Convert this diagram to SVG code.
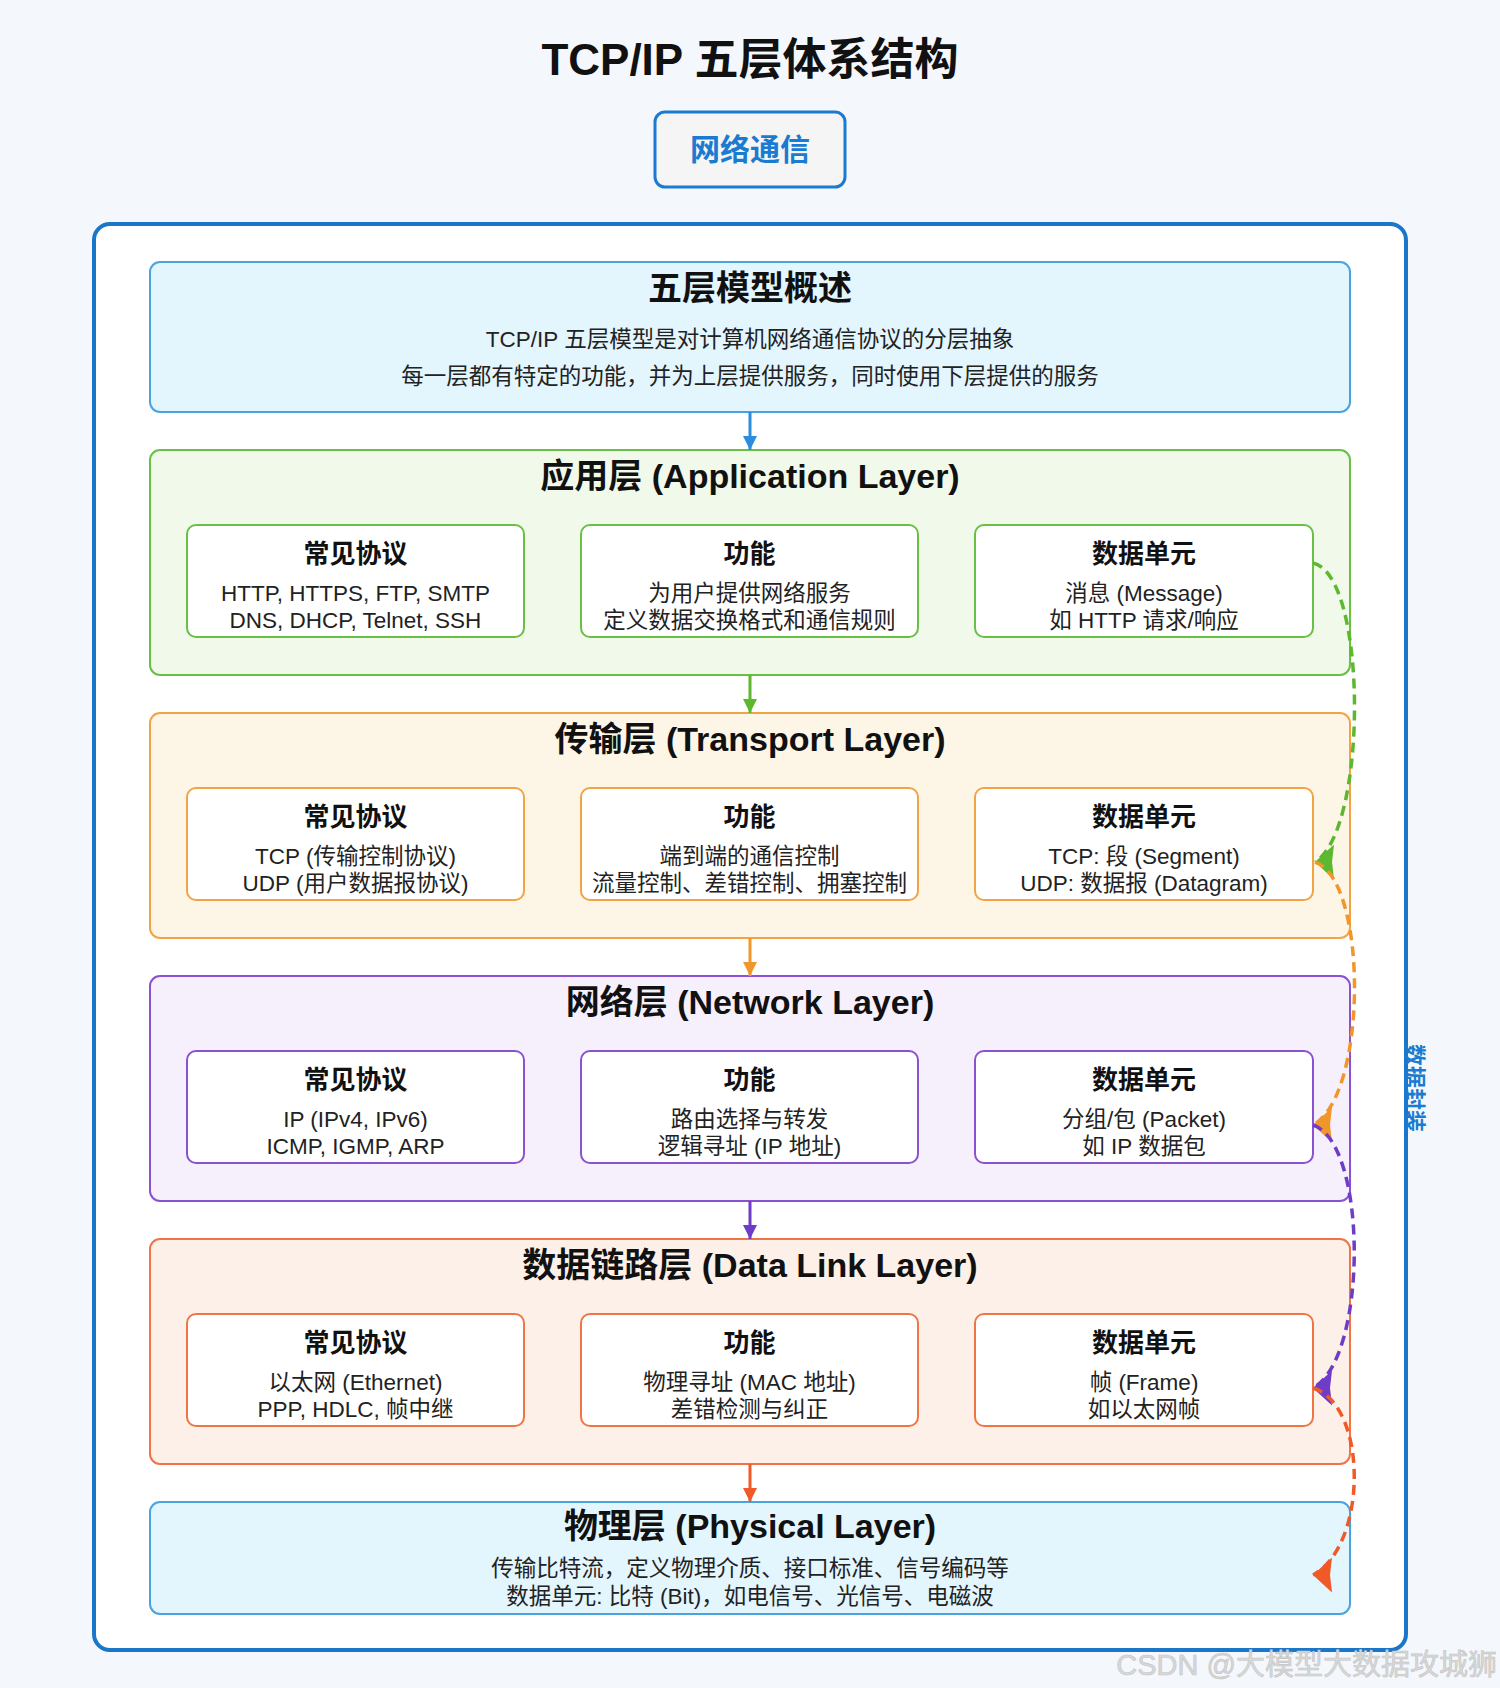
<svg xmlns="http://www.w3.org/2000/svg" width="1500" height="1688" viewBox="0 0 1500 1688">
<style>
text{font-family:"Liberation Sans","Noto Sans CJK SC",sans-serif;text-anchor:middle}
.h1{font-size:44px;font-weight:bold;fill:#111}
.lt{font-size:34px;font-weight:bold;fill:#111}
.st{font-size:26px;font-weight:bold;fill:#111}
.bd{font-size:22.5px;fill:#222}
.sub{fill:#fff;stroke-width:2}
.lay{stroke-width:2}
.dash{fill:none;stroke-width:3.5;stroke-dasharray:10,6}
</style>
<defs>
<marker id="ab" markerUnits="userSpaceOnUse" markerWidth="14" markerHeight="14" viewBox="0 0 14 14" refX="14" refY="7" orient="auto"><path d="M0,0 L14,7 L0,14 z" fill="#2b8ce0"/></marker>
<marker id="ag" markerUnits="userSpaceOnUse" markerWidth="14" markerHeight="14" viewBox="0 0 14 14" refX="14" refY="7" orient="auto"><path d="M0,0 L14,7 L0,14 z" fill="#5cb82e"/></marker>
<marker id="ao" markerUnits="userSpaceOnUse" markerWidth="14" markerHeight="14" viewBox="0 0 14 14" refX="14" refY="7" orient="auto"><path d="M0,0 L14,7 L0,14 z" fill="#f0962a"/></marker>
<marker id="ap" markerUnits="userSpaceOnUse" markerWidth="14" markerHeight="14" viewBox="0 0 14 14" refX="14" refY="7" orient="auto"><path d="M0,0 L14,7 L0,14 z" fill="#6f3cc8"/></marker>
<marker id="ar" markerUnits="userSpaceOnUse" markerWidth="14" markerHeight="14" viewBox="0 0 14 14" refX="14" refY="7" orient="auto"><path d="M0,0 L14,7 L0,14 z" fill="#f05a26"/></marker>
<marker id="dg" markerUnits="userSpaceOnUse" markerWidth="19" markerHeight="35" viewBox="0 0 19 35" refX="19" refY="17.5" orient="180"><path d="M0,0 L19,17.5 L0,35 L2,17.5 z" fill="#5cb82e"/></marker>
<marker id="do" markerUnits="userSpaceOnUse" markerWidth="19" markerHeight="35" viewBox="0 0 19 35" refX="19" refY="17.5" orient="180"><path d="M0,0 L19,17.5 L0,35 L2,17.5 z" fill="#f0962a"/></marker>
<marker id="dp" markerUnits="userSpaceOnUse" markerWidth="19" markerHeight="35" viewBox="0 0 19 35" refX="19" refY="17.5" orient="180"><path d="M0,0 L19,17.5 L0,35 L2,17.5 z" fill="#6f3cc8"/></marker>
<marker id="dr" markerUnits="userSpaceOnUse" markerWidth="19" markerHeight="35" viewBox="0 0 19 35" refX="19" refY="17.5" orient="180"><path d="M0,0 L19,17.5 L0,35 L2,17.5 z" fill="#f05a26"/></marker>
</defs>
<rect width="1500" height="1688" fill="#f4f8fc"/>
<g id="title"><text class="h1" x="750" y="75">TCP/IP 五层体系结构</text></g>
<g id="net-comm">
<rect x="655" y="112" width="190" height="75" rx="10" fill="#f5f5f5" stroke="#1a7bd0" stroke-width="3"/>
<text x="750" y="160" style="font-size:30px;font-weight:bold;fill:#1a7bd0">网络通信</text>
</g>
<g id="container"><rect x="94" y="224" width="1312" height="1426" rx="16" fill="#fff" stroke="#1a76c8" stroke-width="4"/></g>
<g id="overview">
<rect class="lay" x="150" y="262" width="1200" height="150" rx="10" fill="#e3f5fd" stroke="#4aa3df"/>
<text class="lt" x="750" y="300">五层模型概述</text>
<text class="bd" x="750" y="347">TCP/IP 五层模型是对计算机网络通信协议的分层抽象</text>
<text class="bd" x="750" y="384">每一层都有特定的功能，并为上层提供服务，同时使用下层提供的服务</text>
</g>
<g id="app-layer">
<rect class="lay" x="150" y="450" width="1200" height="225" rx="10" fill="#f1f9ea" stroke="#6abf45"/>
<text class="lt" x="750" y="488">应用层 (Application Layer)</text>
<g id="app-proto"><rect class="sub" x="187" y="525" width="337" height="112" rx="9" stroke="#6abf45"/><text class="st" x="355.5" y="563">常见协议</text><text class="bd" x="355.5" y="601">HTTP, HTTPS, FTP, SMTP</text><text class="bd" x="355.5" y="628">DNS, DHCP, Telnet, SSH</text></g>
<g id="app-func"><rect class="sub" x="581" y="525" width="337" height="112" rx="9" stroke="#6abf45"/><text class="st" x="749.5" y="563">功能</text><text class="bd" x="749.5" y="601">为用户提供网络服务</text><text class="bd" x="749.5" y="628">定义数据交换格式和通信规则</text></g>
<g id="app-pdu"><rect class="sub" x="975" y="525" width="338" height="112" rx="9" stroke="#6abf45"/><text class="st" x="1144" y="563">数据单元</text><text class="bd" x="1144" y="601">消息 (Message)</text><text class="bd" x="1144" y="628">如 HTTP 请求/响应</text></g>
</g>
<g id="transport-layer">
<rect class="lay" x="150" y="713" width="1200" height="225" rx="10" fill="#fdf5e5" stroke="#f2a445"/>
<text class="lt" x="750" y="751">传输层 (Transport Layer)</text>
<g id="tr-proto"><rect class="sub" x="187" y="788" width="337" height="112" rx="9" stroke="#f2a445"/><text class="st" x="355.5" y="826">常见协议</text><text class="bd" x="355.5" y="864">TCP (传输控制协议)</text><text class="bd" x="355.5" y="891">UDP (用户数据报协议)</text></g>
<g id="tr-func"><rect class="sub" x="581" y="788" width="337" height="112" rx="9" stroke="#f2a445"/><text class="st" x="749.5" y="826">功能</text><text class="bd" x="749.5" y="864">端到端的通信控制</text><text class="bd" x="749.5" y="891">流量控制、差错控制、拥塞控制</text></g>
<g id="tr-pdu"><rect class="sub" x="975" y="788" width="338" height="112" rx="9" stroke="#f2a445"/><text class="st" x="1144" y="826">数据单元</text><text class="bd" x="1144" y="864">TCP: 段 (Segment)</text><text class="bd" x="1144" y="891">UDP: 数据报 (Datagram)</text></g>
</g>
<g id="network-layer">
<rect class="lay" x="150" y="976" width="1200" height="225" rx="10" fill="#f6effc" stroke="#8a52d0"/>
<text class="lt" x="750" y="1014">网络层 (Network Layer)</text>
<g id="nw-proto"><rect class="sub" x="187" y="1051" width="337" height="112" rx="9" stroke="#8a52d0"/><text class="st" x="355.5" y="1089">常见协议</text><text class="bd" x="355.5" y="1127">IP (IPv4, IPv6)</text><text class="bd" x="355.5" y="1154">ICMP, IGMP, ARP</text></g>
<g id="nw-func"><rect class="sub" x="581" y="1051" width="337" height="112" rx="9" stroke="#8a52d0"/><text class="st" x="749.5" y="1089">功能</text><text class="bd" x="749.5" y="1127">路由选择与转发</text><text class="bd" x="749.5" y="1154">逻辑寻址 (IP 地址)</text></g>
<g id="nw-pdu"><rect class="sub" x="975" y="1051" width="338" height="112" rx="9" stroke="#8a52d0"/><text class="st" x="1144" y="1089">数据单元</text><text class="bd" x="1144" y="1127">分组/包 (Packet)</text><text class="bd" x="1144" y="1154">如 IP 数据包</text></g>
</g>
<g id="datalink-layer">
<rect class="lay" x="150" y="1239" width="1200" height="225" rx="10" fill="#fdf0e8" stroke="#f07545"/>
<text class="lt" x="750" y="1277">数据链路层 (Data Link Layer)</text>
<g id="dl-proto"><rect class="sub" x="187" y="1314" width="337" height="112" rx="9" stroke="#f07545"/><text class="st" x="355.5" y="1352">常见协议</text><text class="bd" x="355.5" y="1390">以太网 (Ethernet)</text><text class="bd" x="355.5" y="1417">PPP, HDLC, 帧中继</text></g>
<g id="dl-func"><rect class="sub" x="581" y="1314" width="337" height="112" rx="9" stroke="#f07545"/><text class="st" x="749.5" y="1352">功能</text><text class="bd" x="749.5" y="1390">物理寻址 (MAC 地址)</text><text class="bd" x="749.5" y="1417">差错检测与纠正</text></g>
<g id="dl-pdu"><rect class="sub" x="975" y="1314" width="338" height="112" rx="9" stroke="#f07545"/><text class="st" x="1144" y="1352">数据单元</text><text class="bd" x="1144" y="1390">帧 (Frame)</text><text class="bd" x="1144" y="1417">如以太网帧</text></g>
</g>
<g id="physical-layer">
<rect class="lay" x="150" y="1502" width="1200" height="112" rx="10" fill="#e3f5fd" stroke="#4aa3df"/>
<text class="lt" x="750" y="1538">物理层 (Physical Layer)</text>
<text class="bd" x="750" y="1576">传输比特流，定义物理介质、接口标准、信号编码等</text>
<text class="bd" x="750" y="1604">数据单元: 比特 (Bit)，如电信号、光信号、电磁波</text>
</g>
<g id="connectors">
<line x1="750" y1="412" x2="750" y2="450" stroke="#2b8ce0" stroke-width="3" marker-end="url(#ab)"/>
<line x1="750" y1="675" x2="750" y2="713" stroke="#5cb82e" stroke-width="3" marker-end="url(#ag)"/>
<line x1="750" y1="938" x2="750" y2="976" stroke="#f0962a" stroke-width="3" marker-end="url(#ao)"/>
<line x1="750" y1="1201" x2="750" y2="1239" stroke="#6f3cc8" stroke-width="3" marker-end="url(#ap)"/>
<line x1="750" y1="1464" x2="750" y2="1502" stroke="#f05a26" stroke-width="3" marker-end="url(#ar)"/>
<path class="dash" d="M1313,563 C1368,575 1368,830 1315,862" stroke="#5cb82e" marker-end="url(#dg)"/>
<path class="dash" d="M1315,862 C1368,880 1368,1095 1313,1125" stroke="#f0962a" marker-end="url(#do)"/>
<path class="dash" d="M1313,1125 C1368,1143 1368,1358 1313,1388" stroke="#6f3cc8" marker-end="url(#dp)"/>
<path class="dash" d="M1313,1388 C1368,1405 1368,1545 1313,1575" stroke="#f05a26" marker-end="url(#dr)"/>
</g>
<g id="encap-label"><text x="1414" y="1088" transform="rotate(90 1414 1088)" dominant-baseline="central" style="font-size:22px;font-weight:bold;fill:#1a7bd0">数据封装</text></g>
<text x="1497" y="1675" style="text-anchor:end;font-size:29px;fill:#d8d8d8;stroke:#c4c4c4;stroke-width:0.6">CSDN @大模型大数据攻城狮</text>
</svg>
